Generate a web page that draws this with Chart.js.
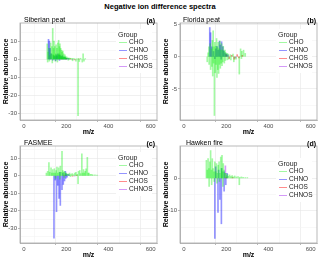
<!DOCTYPE html>
<html>
<head>
<meta charset="utf-8">
<script src="https://cdn.jsdelivr.net/npm/chart.js@4.4.0/dist/chart.umd.min.js"></script>
<style>
body { margin: 0; width: 320px; height: 258px; background: #fff; position: relative; overflow: hidden;
       font-family: "Liberation Sans", Arial, sans-serif; }
canvas { position: absolute; }
.t { position: absolute; white-space: nowrap; line-height: 1; color: #000; }
.lg { position: absolute; background: #fff; }
.lg-row { position: absolute; white-space: nowrap; font-size: 6.5px; line-height: 1; color: #222; }
.lg-key { position: absolute; height: 1.5px; width: 8px; }
</style>
</head>
<body>
<div class="t" style="left:0;width:320px;text-align:center;top:3px;font-size:7.5px;font-weight:bold;">Negative ion difference spectra</div>

<canvas id="pa" width="160" height="136" style="left:0;top:0"></canvas>
<canvas id="pb" width="160" height="136" style="left:160px;top:0"></canvas>
<canvas id="pc" width="160" height="135" style="left:0;top:124px"></canvas>
<canvas id="pd" width="160" height="135" style="left:160px;top:124px"></canvas>

<div class="t" style="left:24px;top:16px;font-size:7px;">Siberian peat</div>
<div class="t" style="right:165px;top:17px;font-size:7px;font-weight:bold;">(a)</div>
<div class="t" style="left:183px;top:16px;font-size:7px;">Florida peat</div>
<div class="t" style="right:4px;top:17px;font-size:7px;font-weight:bold;">(b)</div>
<div class="t" style="left:24px;top:139px;font-size:7px;">FASMEE</div>
<div class="t" style="right:165px;top:140px;font-size:7px;font-weight:bold;">(c)</div>
<div class="t" style="left:186px;top:139px;font-size:7px;">Hawken fire</div>
<div class="t" style="right:4px;top:140px;font-size:7px;font-weight:bold;">(d)</div>

<script>
const groups = ['CHO', 'CHNO', 'CHOS', 'CHNOS'];
const groupColors = ['rgba(0,238,0,0.36)', 'rgba(0,0,255,0.42)', 'rgba(255,0,0,0.45)', 'rgba(160,32,240,0.45)'];
const mzTicks = [0, 100, 200, 300, 400, 500, 600];

// --- Siberian peat ---
const sibCHO = [[110,8.5],[112,-1.5],[114,4],[118,6],[120,-1],[122,2],[126,9],[128,3],[132,7],[134,-2],[136,17],[138,2.5],
  [140,6],[142,10],[144,2],[146,7],[148,-1],[150,3],[152,8],[154,2],[156,6],[158,-1.5],[160,9],[162,2.5],[164,10.5],
  [166,3],[168,7],[170,8.5],[172,2],[174,6],[176,1.5],[178,5],[180,4],[182,1.5],[184,4.5],[186,1.2],[188,3],[190,1.5],
  [192,1],[194,2.5],[196,0.8],[198,1.5],[200,0.6],[204,1.2],[208,0.5],[210,-0.5],[212,0.8],[216,0.4],[220,0.6],[226,0.4],
  [230,-0.8],[232,0.5],[240,0.4],[246,-1],[250,0.3],[256,-31],[258,0.5],[262,-1.2],[268,0.6],[276,-1.5],[280,3],
  [284,-1],[290,0.4]];
const sibCHNO = [[116,11],[120,10],[124,6],[130,3],[136,-0.5],[140,2],[146,1.5],[150,-0.8],[152,2.5],[156,1.8],
  [160,3],[166,2],[168,-0.6],[170,2.5],[176,1.5],[182,2],[188,1],[194,1.2],[200,0.6],[206,0.5],[212,0.4]];
const sibCHOS = [[180,0.3],[200,0.4],[220,0.3],[240,-0.3],[260,0.2]];
const sibCHNOS = [[190,0.2],[230,-0.2]];

// --- Florida peat ---
const flaCHO = [[110,-0.8],[114,0.6],[118,1.5],[119,-1.2],[124,2],[126,-2],[130,1.2],[132,-1.5],[134,2.5],[136,-3],
  [138,4],[140,-1],[142,1.5],[144,-9.1],[146,2.2],[148,-2.5],[150,1.6],[152,-1.2],[154,2.8],[156,-3.2],[158,1.4],
  [160,-2],[162,2.2],[164,-2.6],[166,1.2],[168,-1.2],[170,2.4],[172,-1.8],[174,1],[176,-1],[178,2],[180,-1.4],
  [182,1],[184,-0.8],[186,1.6],[190,0.8],[191,-1],[194,1],[196,-0.6],[198,0.6],[204,0.5],[205,-0.5],[210,0.4],
  [212,-0.4],[220,0.3],[222,-0.5],[232,0.4],[236,-0.8],[246,-0.4],[262,-2.7],[268,1.2],[272,-0.3],[274,0.8],
  [282,1],[290,0.5]];
const flaCHNO = [[122,4.5],[126,3.7],[132,1.5],[140,0.8],[146,-0.3],[150,1.2],[156,1.6],[162,1],[168,2.4],[172,1.8],
  [176,-0.4],[178,2.3],[184,1.5],[188,0.9],[194,0.6],[200,0.4],[206,0.3]];
const flaCHOS = [[200,0.3],[214,-0.3],[226,0.2],[238,-0.4],[252,0.3],[260,-0.2],[276,0.2]];
const flaCHNOS = [[210,0.15],[244,-0.2]];

// --- FASMEE ---
const fasCHO = [[106,1.5],[112,2.5],[118,7.5],[122,2],[128,4.5],[132,1.5],[136,3.5],[140,1.5],[144,4],[148,1.5],
  [150,-1.5],[152,3],[156,5],[160,1.5],[164,4.5],[168,2],[170,-2],[172,5.5],[176,2],[180,14],[184,3],[188,2],
  [190,-1],[192,2.5],[196,1.5],[200,1.5],[204,1],[210,1],[216,1.5],[220,-0.5],[222,0.6],[228,1.2],[234,0.6],
  [240,1.5],[246,2],[252,0.8],[256,-4.5],[258,2.5],[264,3],[268,1.2],[274,12.5],[278,1.5],[282,3.5],[286,1.5],
  [290,2.5],[294,4],[300,10.5],[304,1.5],[308,1.5],[314,0.8],[320,0.8],[326,0.5],[336,0.5],[346,0.3]];
const fasCHNO = [[142,-35.8],[148,-2.5],[154,-20.6],[160,-5.5],[166,-13],[170,2],[172,-17],[180,-8],[184,1.5],
  [186,-5],[192,-3],[196,2.5],[198,-1.5],[200,1],[204,-0.8],[208,0.8],[214,0.5]];
const fasCHOS = [[190,0.3],[230,-0.3],[250,0.2]];
const fasCHNOS = [[200,0.2],[240,-0.2]];

// --- Hawken fire ---
const hawCHO = [[106,5.5],[110,2.5],[114,6],[118,3],[119,-2.5],[122,5],[126,8.5],[130,2.5],[131,-2],[134,6],[138,3],
  [142,2],[143,-1],[146,5],[150,2],[154,4.5],[156,-1.5],[158,1.5],[162,4],[166,5],[168,-1],[170,1.5],[174,6.5],
  [178,3],[180,7],[182,2],[184,-2.5],[186,4.5],[190,2.5],[194,1.5],[198,1.5],[202,0.8],[206,1.2],[210,0.6],[216,1],
  [222,0.5],[228,0.8],[234,0.4],[240,0.7],[248,0.4],[256,0.5],[262,-2],[264,0.3],[272,0.4],[280,0.3],[290,0.2],
  [300,0.2]];
const hawCHNO = [[146,-18.5],[150,3.5],[161,-10.5],[164,2.5],[170,-6.5],[177,-14],[178,3],[190,-4],[190,2],
  [198,-2],[204,1.5]];
const hawCHOS = [[200,0.2],[230,0.2]];
const hawCHNOS = [[196,3.8]];

function toPoints(arr) {
    return arr.map(p => ({ x: p[0], y: p[1] }));
}

function makePanel(id, series, yMin, yMax, yTicks, yMajor) {
    const ctx = document.getElementById(id).getContext('2d');
    const isMajorY = v => yMajor.includes(v);
    return new Chart(ctx, {
        type: 'bar',
        data: {
            datasets: series.map((s, i) => ({
                label: groups[i],
                data: toPoints(s),
                backgroundColor: groupColors[i],
                borderWidth: 0,
                barThickness: 1,
                grouped: false
            }))
        },
        options: {
            responsive: false,
            animation: false,
            devicePixelRatio: 1,
            layout: { padding: { left: 0, right: 3, top: id === 'pa' || id === 'pb' ? 23 : 22, bottom: 0 } },
            plugins: { legend: { display: false }, tooltip: { enabled: false } },
            scales: {
                x: {
                    type: 'linear',
                    offset: false,
                    min: -19, max: 630,
                    afterBuildTicks: sc => { sc.ticks = mzTicks.map(v => ({ value: v })); },
                    afterFit: sc => { sc.height = 16; },
                    grid: {
                        color: c => (c.tick && c.tick.value % 200 === 0) ? '#e6e6e6' : '#f3f3f3',
                        tickColor: c => (c.tick && c.tick.value % 200 === 0) ? '#888' : 'rgba(0,0,0,0)',
                        tickLength: 2,
                        lineWidth: 0.6
                    },
                    border: { color: '#a8a8a8', width: 0.8 },
                    ticks: {
                        padding: 1,
                        color: '#4d4d4d',
                        font: { size: 6, family: 'Liberation Sans' },
                        maxRotation: 0,
                        autoSkip: false,
                        callback: v => v % 200 === 0 ? String(v) : ''
                    },
                    title: {
                        display: true, text: 'm/z', color: '#000',
                        font: { size: 7, weight: 'bold', family: 'Liberation Sans' },
                        padding: 0
                    }
                },
                y: {
                    min: yMin, max: yMax,
                    afterBuildTicks: sc => { sc.ticks = yTicks.map(v => ({ value: v })); },
                    afterFit: sc => { sc.width = 20; },
                    grid: {
                        color: c => (c.tick && isMajorY(c.tick.value)) ? '#e6e6e6' : '#f3f3f3',
                        tickColor: c => (c.tick && isMajorY(c.tick.value)) ? '#888' : 'rgba(0,0,0,0)',
                        tickLength: 2,
                        lineWidth: 0.6
                    },
                    border: { color: '#a8a8a8', width: 0.8 },
                    ticks: {
                        padding: 1,
                        color: '#4d4d4d',
                        font: { size: 6, family: 'Liberation Sans' },
                        autoSkip: false,
                        callback: v => isMajorY(v) ? String(v) : ''
                    },
                    title: {
                        display: true, text: 'Relative abundance', color: '#000',
                        font: { size: 7, weight: 'bold', family: 'Liberation Sans' },
                        padding: { top: 2, bottom: 0 }
                    }
                }
            }
        },
        plugins: [{
            id: 'frame',
            afterDraw(chart) {
                const a = chart.chartArea, c = chart.ctx;
                c.save();
                c.strokeStyle = '#a8a8a8';
                c.lineWidth = 0.8;
                c.strokeRect(a.left, a.top, a.right - a.left, a.bottom - a.top);
                c.restore();
            }
        }]
    });
}

makePanel('pa', [sibCHO, sibCHNO, sibCHOS, sibCHNOS], -33.4, 20,
    [-30, -25, -20, -15, -10, -5, 0, 5, 10, 15], [-30, -20, -10, 0, 10]);
makePanel('pb', [flaCHO, flaCHNO, flaCHOS, flaCHNOS], -9.8, 5.2,
    [-7.5, -5, -2.5, 0, 2.5, 5], [-5, 0, 5]);
makePanel('pc', [fasCHO, fasCHNO, fasCHOS, fasCHNOS], -38.5, 17,
    [-35, -30, -25, -20, -15, -10, -5, 0, 5, 10, 15], [-30, -20, -10, 0, 10]);
makePanel('pd', [hawCHO, hawCHNO, hawCHOS, hawCHNOS], -19.9, 9.9,
    [-15, -10, -5, 0, 5], [-10, 0, 10]);

// legend: x of key, y of "Group" centre
function addLegend(x, y) {
    const box = document.createElement('div');
    box.className = 'lg';
    box.style.left = (x - 3) + 'px';
    box.style.top = (y - 5) + 'px';
    box.style.width = '36px';
    box.style.height = '44px';
    document.body.appendChild(box);
    const title = document.createElement('div');
    title.className = 'lg-row';
    title.style.fontSize = '7px';
    title.style.left = (x - 1) + 'px';
    title.style.top = (y - 3.5) + 'px';
    title.textContent = 'Group';
    document.body.appendChild(title);
    groups.forEach((g, i) => {
        const cy = y + 8.5 + i * 8;
        const key = document.createElement('div');
        key.className = 'lg-key';
        key.style.left = x + 'px';
        key.style.top = (cy - 0.75) + 'px';
        key.style.background = groupColors[i];
        document.body.appendChild(key);
        const lab = document.createElement('div');
        lab.className = 'lg-row';
        lab.style.left = (x + 10) + 'px';
        lab.style.top = (cy - 3.3) + 'px';
        lab.textContent = g;
        document.body.appendChild(lab);
    });
}
addLegend(119, 34);
addLegend(279, 34);
addLegend(119, 157);
addLegend(279, 163);
</script>
</body>
</html>
